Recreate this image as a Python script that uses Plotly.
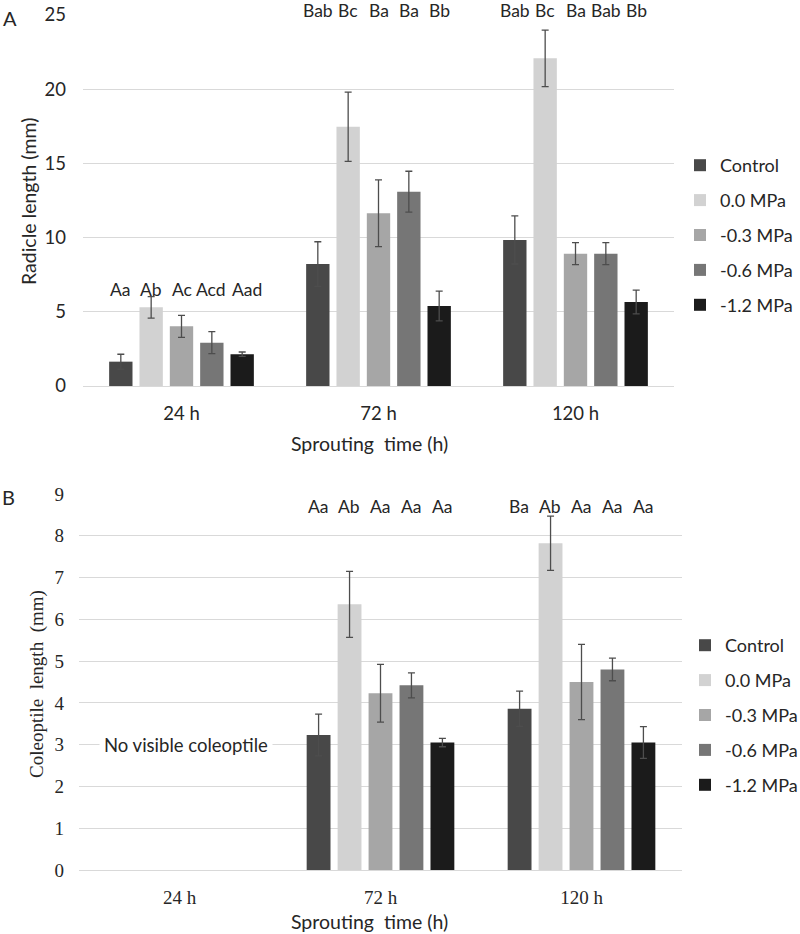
import plotly.graph_objects as go

# ---------------- data ----------------
times = ["24 h", "72 h", "120 h"]
treatments = ["Control", "0.0 MPa", "-0.3 MPa", "-0.6 MPa", "-1.2 MPa"]
colors = ["#484848", "#d2d2d2", "#a6a6a6", "#767676", "#1b1b1b"]

# Panel A: radicle length (mm)
radicle_control = [1.64, 8.22, 9.84]
radicle_0_0 = [5.30, 17.47, 22.08]
radicle_m0_3 = [4.02, 11.64, 8.92]
radicle_m0_6 = [2.92, 13.09, 8.92]
radicle_m1_2 = [2.14, 5.39, 5.66]
radicle_control_err = [0.50, 1.50, 1.62]
radicle_0_0_err = [0.72, 2.33, 1.90]
radicle_m0_3_err = [0.74, 2.25, 0.74]
radicle_m0_6_err = [0.74, 1.38, 0.74]
radicle_m1_2_err = [0.15, 1.00, 0.80]

# Panel B: coleoptile length (mm) (no coleoptile at 24 h)
coleoptile_control = [None, 3.23, 3.86]
coleoptile_0_0 = [None, 6.36, 7.82]
coleoptile_m0_3 = [None, 4.23, 4.50]
coleoptile_m0_6 = [None, 4.42, 4.80]
coleoptile_m1_2 = [None, 3.05, 3.05]
coleoptile_control_err = [None, 0.50, 0.42]
coleoptile_0_0_err = [None, 0.79, 0.65]
coleoptile_m0_3_err = [None, 0.69, 0.90]
coleoptile_m0_6_err = [None, 0.30, 0.27]
coleoptile_m1_2_err = [None, 0.10, 0.38]

# significance letters
radicle_letters_24 = ["Aa", "Ab", "Ac", "Acd", "Aad"]
radicle_letters_72 = ["Bab", "Bc", "Ba", "Ba", "Bb"]
radicle_letters_120 = ["Bab", "Bc", "Ba", "Bab", "Bb"]
coleoptile_letters_72 = ["Aa", "Ab", "Aa", "Aa", "Aa"]
coleoptile_letters_120 = ["Ba", "Ab", "Aa", "Aa", "Aa"]

radicle_values = [radicle_control, radicle_0_0, radicle_m0_3, radicle_m0_6, radicle_m1_2]
radicle_errs = [radicle_control_err, radicle_0_0_err, radicle_m0_3_err, radicle_m0_6_err, radicle_m1_2_err]
coleoptile_values = [coleoptile_control, coleoptile_0_0, coleoptile_m0_3, coleoptile_m0_6, coleoptile_m1_2]
coleoptile_errs = [coleoptile_control_err, coleoptile_0_0_err, coleoptile_m0_3_err, coleoptile_m0_6_err, coleoptile_m1_2_err]

# ---------------- style ----------------
W, H = 800, 934
SANS = "Lato, 'Open Sans', sans-serif"
SERIF = "'Liberation Serif', 'DejaVu Serif', serif"
TXT = "#262626"
GRID = "#d9d9d9"
FS = 18.5
FS_LEG = 18
FS_LET = 17.5
FS_TITLE = 19.5
BARGAP_A = 0.23
BARGAP_B = 0.226


def py(p):
    return 1 - p / H


fig = go.Figure()

for i, name in enumerate(treatments):
    fig.add_trace(go.Bar(
        x=times, y=radicle_values[i], name=name,
        marker=dict(color=colors[i], line=dict(width=0)),
        error_y=dict(type="data", array=radicle_errs[i], color="#4d4d4d",
                     thickness=1.3, width=3.5),
        xaxis="x", yaxis="y", legend="legend", legendgroup="a" + str(i),
    ))
for i, name in enumerate(treatments):
    fig.add_trace(go.Bar(
        x=times, y=coleoptile_values[i], name=name,
        marker=dict(color=colors[i], line=dict(width=0)),
        error_y=dict(type="data", array=coleoptile_errs[i], color="#4d4d4d",
                     thickness=1.3, width=3.5),
        xaxis="x2", yaxis="y2", legend="legend2", legendgroup="b" + str(i),
    ))

annotations = []


def letters(labels, cat_index, ypix, xref, gap, shifts=None):
    slot = (1 - gap) / len(treatments)
    for j, t in enumerate(labels):
        off = -(1 - gap) / 2 + (j + 0.5) * slot
        annotations.append(dict(
            x=cat_index + off, y=py(ypix), xref=xref, yref="paper", text=t,
            xshift=(shifts[j] if shifts else 0),
            showarrow=False, font=dict(family=SANS, size=FS_LET, color=TXT),
            xanchor="center", yanchor="middle"))


letters(radicle_letters_24, 0, 289, "x", BARGAP_A, shifts=[0, 0, 0, -1, 5])
letters(radicle_letters_72, 1, 11, "x", BARGAP_A)
letters(radicle_letters_120, 2, 11, "x", BARGAP_A)
letters(coleoptile_letters_72, 1, 506, "x2", BARGAP_B)
letters(coleoptile_letters_120, 2, 506, "x2", BARGAP_B)

annotations += [
    dict(x=0, y=3, xref="x2", yref="y2", text="No visible coleoptile", showarrow=False,
         xshift=6, bgcolor="white", borderpad=4,
         font=dict(family=SANS, size=FS, color=TXT)),
    dict(x=10 / W, y=py(18), xref="paper", yref="paper", text="A", showarrow=False,
         xanchor="center", yanchor="middle", font=dict(family=SANS, size=20, color=TXT)),
    dict(x=8 / W, y=py(497), xref="paper", yref="paper", text="B", showarrow=False,
         xanchor="center", yanchor="middle", font=dict(family=SANS, size=20, color=TXT)),
    dict(x=29 / W, y=py(202), xref="paper", yref="paper", text="Radicle length (mm)",
         showarrow=False, textangle=-90, xanchor="center", yanchor="middle",
         font=dict(family=SANS, size=FS_TITLE, color=TXT)),
    dict(x=369 / W, y=py(443), xref="paper", yref="paper", text="Sprouting&nbsp; time (h)",
         showarrow=False, xanchor="center", yanchor="middle",
         font=dict(family=SANS, size=FS_TITLE, color=TXT)),
    dict(x=37 / W, y=py(684), xref="paper", yref="paper",
         text="Coleoptile&nbsp; length&nbsp; (mm)",
         showarrow=False, textangle=-90, xanchor="center", yanchor="middle",
         font=dict(family=SERIF, size=19, color=TXT)),
    dict(x=369 / W, y=py(921), xref="paper", yref="paper", text="Sprouting&nbsp; time (h)",
         showarrow=False, xanchor="center", yanchor="middle",
         font=dict(family=SANS, size=FS_TITLE, color=TXT)),
]

axis_common = dict(showline=False, ticks="", mirror=False, automargin=False)

fig.update_layout(
    template="none",
    width=W, height=H,
    margin=dict(l=0, r=0, t=0, b=0, autoexpand=False),
    paper_bgcolor="white", plot_bgcolor="white",
    barmode="group", bargap=BARGAP_A, bargroupgap=0.23,
    xaxis=dict(domain=[83 / W, 674 / W], anchor="y", type="category",
               categoryorder="array", categoryarray=times,
               showgrid=False, zeroline=False, ticklabelstandoff=14,
               tickfont=dict(family=SANS, size=FS, color=TXT), **axis_common),
    yaxis=dict(domain=[py(386), py(15)], anchor="x", range=[0, 25], dtick=5,
               showgrid=True, gridcolor=GRID, gridwidth=1.3,
               zeroline=True, zerolinecolor=GRID, zerolinewidth=1.3,
               ticklabelstandoff=16,
               tickfont=dict(family=SANS, size=FS, color=TXT), **axis_common),
    xaxis2=dict(domain=[79 / W, 682 / W], anchor="y2", type="category",
                categoryorder="array", categoryarray=times,
                showgrid=False, zeroline=False, ticklabelstandoff=14,
                tickfont=dict(family=SERIF, size=19, color=TXT), **axis_common),
    yaxis2=dict(domain=[py(870), py(494)], anchor="x2", range=[0, 9], dtick=1,
                showgrid=True, gridcolor=GRID, gridwidth=1.3,
                zeroline=True, zerolinecolor=GRID, zerolinewidth=1.3,
                ticklabelstandoff=14,
                tickfont=dict(family=SERIF, size=19, color=TXT), **axis_common),
    legend=dict(x=680 / W, y=py(235), xanchor="left", yanchor="middle",
                font=dict(family=SANS, size=FS_LEG, color=TXT), tracegroupgap=8.5,
                itemwidth=30, bgcolor="rgba(0,0,0,0)"),
    legend2=dict(x=685 / W, y=py(715), xanchor="left", yanchor="middle",
                 font=dict(family=SANS, size=FS_LEG, color=TXT), tracegroupgap=8.5,
                 itemwidth=30, bgcolor="rgba(0,0,0,0)"),
    annotations=annotations,
    showlegend=True,
)

fig.write_html("out.html", config={"displayModeBar": False},
               post_script="document.body.style.margin='0';")
